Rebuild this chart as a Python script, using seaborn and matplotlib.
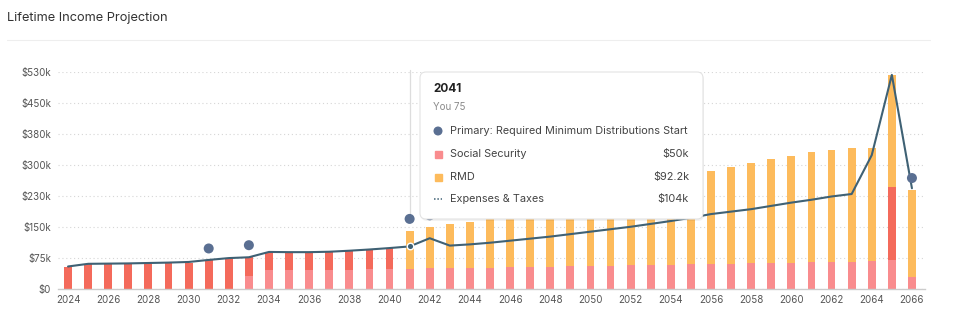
import matplotlib
matplotlib.use("Agg")
import matplotlib.pyplot as plt
from matplotlib.patches import FancyBboxPatch, Rectangle, Circle
import seaborn as sns
import numpy as np
import pandas as pd

# ---------------- data (in $k) ----------------
years = list(range(2024, 2067))
employment = [53, 60.5, 60.5, 61, 62, 63, 64.5, 70, 75.5, 47, 44.5, 43.5, 43, 43.7, 46.3, 49, 52.5,
              0, 0, 0, 0, 0, 0, 0, 0, 0, 0, 0, 0, 0, 0, 0, 0, 0, 0, 0, 0, 0, 0, 0, 0, 180, 0]
social_security = [0, 0, 0, 0, 0, 0, 0, 0, 0, 31, 45.5, 46, 46.5, 47, 47.5, 48, 48.5,
                   50, 50.5, 51, 52, 52.5, 53, 54, 54.5, 55.5, 56, 57, 57.5, 58.5, 59, 60,
                   61, 61.5, 62.5, 63, 64, 65, 66, 67, 68, 70, 28.5]
rmd = [0, 0, 0, 0, 0, 0, 0, 0, 0, 0, 0, 0, 0, 0, 0, 0, 0,
       92.2, 100.5, 107, 112, 121.5, 131, 141, 150.5, 159.5, 169, 179, 188.5, 197.5, 207, 217,
       226, 235.5, 244.5, 255, 262, 270, 273, 277, 277, 273, 213.5]
expenses = [55, 61.5, 62, 62.5, 63.5, 64.5, 66, 71, 75.5, 77.5, 90.5, 90, 90, 91, 93.5, 96.5, 100,
            104, 124, 106, 109, 113, 118, 123, 128, 134, 140, 146, 152, 159, 166, 174,
            183, 189, 195, 203, 211, 218, 226, 232, 327, 523, 246]
event_years = [2031, 2033, 2041, 2042, 2066]
y_tick_labels = ["$0", "$75k", "$150k", "$230k", "$300k", "$380k", "$450k", "$530k"]
x_tick_years = list(range(2024, 2067, 2))

tooltip_year = "2041"
tooltip_sub = "You 75"
tooltip_rows = [("Primary: Required Minimum Distributions Start", ""),
                ("Social Security", "$50k"),
                ("RMD", "$92.2k"),
                ("Expenses & Taxes", "$104k")]

# ---------------- style ----------------
C_EMP = "#F46A5B"
C_SS = "#F98C8E"
C_RMD = "#FDBB5C"
C_LINE = "#3F6174"
C_DOT = "#5A6F92"

sns.set_theme(style="white")
plt.rcParams["font.family"] = ["Inter", "DejaVu Sans"]

W, H = 961, 324
fig = plt.figure(figsize=(W / 100, H / 100), dpi=100)
fig.patch.set_facecolor("white")

def fx(x):
    return x / W

def fy(y):
    return 1 - y / H

ax = fig.add_axes([fx(58), fy(289), (925 - 58) / W, (289 - 72) / H])

df = pd.DataFrame({"year": years, "emp": employment, "ss": social_security,
                   "rmd": rmd, "exp": expenses})
df["top"] = df["emp"] + df["ss"] + df["rmd"]
df["mid"] = df["emp"] + df["ss"]

bw = 0.39
sns.barplot(data=df, x="year", y="top", native_scale=True, color=C_RMD, width=bw,
            errorbar=None, linewidth=0, saturation=1, ax=ax, zorder=2)
sns.barplot(data=df[df["mid"] > 0], x="year", y="mid", native_scale=True, color=C_EMP, width=bw,
            errorbar=None, linewidth=0, saturation=1, ax=ax, zorder=2)
sns.barplot(data=df[df["ss"] > 0], x="year", y="ss", native_scale=True, color=C_SS, width=bw,
            errorbar=None, linewidth=0, saturation=1, ax=ax, zorder=2)

sns.lineplot(data=df, x="year", y="exp", color=C_LINE, linewidth=1.5, ax=ax, zorder=3)

# events above bars
ev = df[df["year"].isin(event_years)]
ev_y = ev["top"] + 29
# cursor line at hovered year
hv = df[df["year"] == int(tooltip_year)]
ax.plot([int(tooltip_year), int(tooltip_year)], [float(ev_y[hv.index].iloc[0]), 535],
        color="#dddddd", lw=0.9, zorder=1, clip_on=False)
sns.scatterplot(x=ev["year"], y=ev_y, s=52, color=C_DOT, edgecolor="none", ax=ax,
                zorder=4, clip_on=False)
ax.scatter(hv["year"], hv["exp"], s=22, color=C_LINE, edgecolor="white", linewidth=1.0, zorder=5)

ax.set_xlim(2023.5, 2066.65)
ax.set_ylim(0, 530)
yt = [i * 530 / 7 for i in range(8)]
ax.set_yticks(yt)
ax.set_yticklabels(y_tick_labels)
ax.set_xticks(x_tick_years)
ax.set_xticklabels([str(y) for y in x_tick_years])
ax.tick_params(axis="both", length=0, labelsize=7, colors="#555555")
ax.tick_params(axis="x", pad=4)
ax.tick_params(axis="y", pad=5)
ax.set_xlabel("")
ax.set_ylabel("")
ax.grid(axis="y", linestyle=(0, (1, 2.5)), color="#d6d6d6", linewidth=0.8)
ax.set_axisbelow(True)
for s in ["top", "right", "left"]:
    ax.spines[s].set_visible(False)
ax.spines["bottom"].set_color("#cccccc")
ax.spines["bottom"].set_linewidth(1.0)
ax.spines["bottom"].set_zorder(6)

# ---------------- overlay: title + tooltip ----------------
ov = fig.add_axes([0, 0, 1, 1], zorder=10)
ov.set_xlim(0, W)
ov.set_ylim(H, 0)
ov.axis("off")
ov.patch.set_alpha(0)

ov.text(7, 18, "Lifetime Income Projection", fontsize=9.2, color="#333333", va="center", ha="left")
ov.plot([7, 930], [40, 40], color="#eeeeee", lw=0.8)

# shadow + box
ov.add_patch(FancyBboxPatch((421, 74), 283, 147, boxstyle="round,pad=0,rounding_size=6",
                            facecolor="#000000", alpha=0.05, edgecolor="none"))
ov.add_patch(FancyBboxPatch((420, 72), 283, 147, boxstyle="round,pad=0,rounding_size=6",
                            facecolor="white", edgecolor="#e3e3e3", linewidth=0.8))
ov.text(433, 89, tooltip_year, fontsize=8.5, fontweight="bold", color="#222222", va="center")
ov.text(433, 107, tooltip_sub, fontsize=7, color="#8a8a8a", va="center")
row_y = [131, 154, 177, 199]
for (lab, val), yy in zip(tooltip_rows, row_y):
    ov.text(450, yy, lab, fontsize=7.85, color="#444444", va="center")
    if val:
        ov.text(689, yy, val, fontsize=7.85, color="#444444", va="center", ha="right")
ov.add_patch(Circle((438, 131), 3.8, color=C_DOT))
ov.add_patch(Rectangle((434.5, 150.5), 7, 7, color=C_SS))
ov.add_patch(Rectangle((434.5, 173.5), 7, 7, color=C_RMD))
ov.plot([434, 442], [199, 199], color=C_LINE, lw=1.1, linestyle=(0, (1, 1.2)))

fig.savefig("out.png", dpi=100, facecolor="white")
